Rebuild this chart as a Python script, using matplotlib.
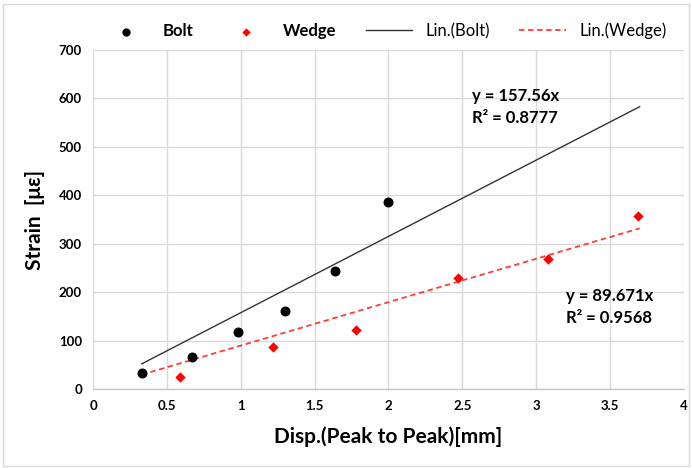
import numpy as np
import matplotlib.pyplot as plt

# data
bolt_x = [0.33, 0.67, 0.98, 1.30, 1.64, 2.00]
bolt_y = [34, 67, 117, 161, 243, 386]
wedge_x = [0.59, 1.22, 1.78, 2.47, 3.08, 3.69]
wedge_y = [25, 87, 122, 229, 269, 357]
bolt_slope = 157.56
wedge_slope = 89.671
trend_x = [0.33, 3.70]

plt.rcParams['font.family'] = ['Lato', 'DejaVu Sans']

fig = plt.figure(figsize=(6.92, 4.68), dpi=100)
ax = fig.add_axes([93 / 692, 1 - 389 / 468, (684 - 93) / 692, (389 - 50) / 468])

tx = np.array(trend_x)
ax.scatter(bolt_x, bolt_y, color='black', s=38, marker='o', zorder=4, label='Bolt')
ax.scatter(wedge_x, wedge_y, color='red', s=28, marker='D', zorder=4, label='Wedge',
           linewidths=0)
ax.plot(tx, bolt_slope * tx, color='#333333', lw=1.0, label='Lin.(Bolt)', zorder=3)
ax.plot(tx, wedge_slope * tx, color='#ff3b3b', lw=1.3, ls=(0, (3, 2)),
        label='Lin.(Wedge)', zorder=3)

ax.set_xlim(0, 4)
ax.set_ylim(0, 700)
ax.set_xticks(np.arange(0, 4.01, 0.5))
ax.set_xticklabels(['0', '0.5', '1', '1.5', '2', '2.5', '3', '3.5', '4'])
ax.set_yticks(range(0, 701, 100))
ax.grid(True, color='#d9d9d9', lw=1.0)
ax.set_axisbelow(True)
for s in ['top', 'right', 'left']:
    ax.spines[s].set_visible(False)
ax.spines['bottom'].set_color('#bfbfbf')
ax.tick_params(length=0, labelsize=9.5, pad=8)
for lbl in ax.get_xticklabels() + ax.get_yticklabels():
    lbl.set_fontweight('bold')

ax.set_xlabel('Disp.(Peak to Peak)[mm]', fontsize=15, fontweight='bold', labelpad=10)
ax.set_ylabel('Strain  [με]', fontsize=15, fontweight='bold', labelpad=10)

ax.text(472 / 692, 1 - 107 / 468, 'y = 157.56x\nR² = 0.8777', transform=fig.transFigure,
        fontsize=12, fontweight='bold', va='center', linespacing=1.4)
ax.text(566 / 692, 1 - 307 / 468, 'y = 89.671x\nR² = 0.9568', transform=fig.transFigure,
        fontsize=12, fontweight='bold', va='center', linespacing=1.4)

leg = fig.legend(loc='center', bbox_to_anchor=(0.556, 1 - 31 / 468), ncol=4, frameon=True,
                 fontsize=12, handlelength=2.8, columnspacing=1.75, handletextpad=0.8,
                 borderpad=0.3, markerscale=0.8)
leg.get_frame().set_edgecolor('none')
leg.get_frame().set_facecolor('white')
for i, t in enumerate(leg.get_texts()):
    if i < 2:
        t.set_fontweight('bold')

fig.patches.append(plt.Rectangle((0.004, 0.004), 0.992, 0.988, transform=fig.transFigure,
                                 fill=False, edgecolor='#d9d9d9', lw=1.0))

fig.savefig('out.png', dpi=100)
plt.close(fig)
